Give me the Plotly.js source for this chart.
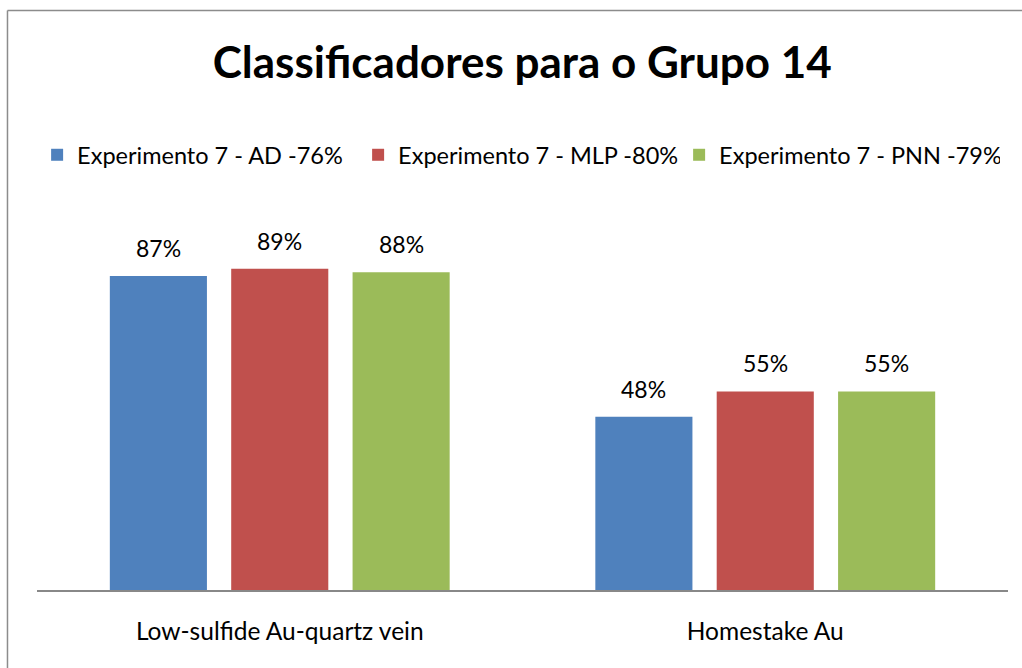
<!DOCTYPE html>
<html>
<head>
<meta charset="utf-8">
<script src="https://cdn.plot.ly/plotly-3.0.1.min.js"></script>
<style>
  html, body { margin: 0; padding: 0; background: #fff; }
  #chart { width: 1022px; height: 668px; }
</style>
</head>
<body>
<div id="chart"></div>
<script>
const categories = ["Low-sulfide Au-quartz vein", "Homestake Au"];
const seriesNames = ["Experimento 7 - AD -76%", "Experimento 7 - MLP -80%", "Experimento 7 - PNN -79%"];
const adValues = [87, 48];
const mlpValues = [89, 55];
const pnnValues = [88, 55];
const colors = ["#4F81BD", "#C0504D", "#9BBB59"];

const seriesValues = [adValues, mlpValues, pnnValues];
const FONT = "Lato, 'Open Sans', sans-serif";
const bargap = 0.25;

const traces = seriesValues.map((vals, i) => ({
  type: "bar",
  name: seriesNames[i],
  x: categories,
  y: vals,
  marker: { color: colors[i] },
  hoverinfo: "none"
}));

const nS = seriesValues.length;
const slot = (1 - bargap) / nS;
const annotations = [];
seriesValues.forEach((vals, i) => {
  vals.forEach((v, j) => {
    annotations.push({
      x: j + (i - (nS - 1) / 2) * slot,
      y: v,
      xref: "x", yref: "y",
      text: v + "%",
      showarrow: false,
      yanchor: "middle",
      yshift: 28,
      font: { family: FONT, size: 23, color: "#000" }
    });
  });
});

const layout = {
  width: 1022, height: 668,
  margin: { l: 37, r: 14, t: 229, b: 78 },
  paper_bgcolor: "#fff",
  plot_bgcolor: "#fff",
  title: {
    text: "<b>Classificadores para o Grupo 14</b>",
    font: { family: FONT, size: 44, color: "#000" },
    x: 0.511, xanchor: "center",
    y: 0.907, yanchor: "middle", yref: "container"
  },
  barmode: "group",
  bargap: bargap,
  bargroupgap: 0.2,
  showlegend: true,
  legend: {
    orientation: "h",
    x: 0.496, xanchor: "center",
    y: 1.205, yanchor: "middle",
    font: { family: FONT, size: 23.5, color: "#000" },
    traceorder: "normal",
    itemwidth: 30,
    entrywidth: 276,
    entrywidthmode: "pixels"
  },
  xaxis: {
    type: "category",
    showline: true, linecolor: "#888", linewidth: 2,
    showgrid: false, zeroline: false,
    ticks: "", ticklabelstandoff: 19,
    tickfont: { family: FONT, size: 24.5, color: "#000" },
    fixedrange: true
  },
  yaxis: {
    range: [0, 100],
    showgrid: false, zeroline: false, showline: false,
    showticklabels: false, ticks: "",
    fixedrange: true
  },
  annotations: annotations,
  shapes: [
    { type: "line", xref: "paper", yref: "paper", x0: -0.0304, x1: 1.03, y0: 1.605, y1: 1.605, line: { color: "#8c8c8c", width: 1.5 } },
    { type: "line", xref: "paper", yref: "paper", x0: -0.0304, x1: -0.0304, y0: 1.605, y1: -0.3, line: { color: "#8c8c8c", width: 1.5 } }
  ]
};

Plotly.newPlot("chart", traces, layout, { displayModeBar: false, staticPlot: true });
</script>
</body>
</html>
